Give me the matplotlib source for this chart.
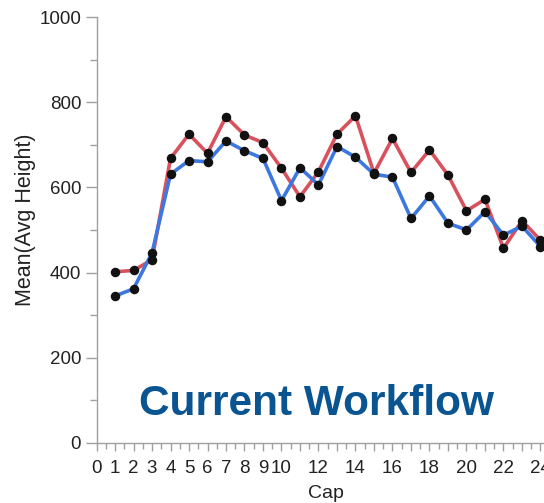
import matplotlib.pyplot as plt
from matplotlib.ticker import MultipleLocator

# values
caps = list(range(1, 25))
red_series = [402, 405, 430, 668, 725, 680, 766, 723, 705, 645, 578, 637,
              725, 768, 633, 715, 635, 688, 629, 545, 572, 457, 522, 476]
blue_series = [345, 362, 446, 631, 663, 660, 709, 686, 668, 569, 646, 606,
               696, 671, 631, 624, 527, 580, 516, 500, 543, 488, 509, 461]
x_ticks = list(range(25))
x_tick_labels = [str(i) if (i <= 10 or i % 2 == 0) else "" for i in x_ticks]
y_ticks = [0, 200, 400, 600, 800, 1000]

sans = ["Liberation Sans", "DejaVu Sans"]

fig = plt.figure(figsize=(5.44, 5.03), dpi=100)
ax = fig.add_axes([0.1774, 0.1193, 0.8226, 0.8469])

ax.plot(caps, red_series, color="#d8525e", lw=2.6, zorder=2)
ax.plot(caps, blue_series, color="#3c78e0", lw=2.6, zorder=3)
ax.scatter(caps, red_series, s=34, color="#111111", zorder=4)
ax.scatter(caps, blue_series, s=34, color="#111111", zorder=4)

ax.set_xlim(0, 24.19)
ax.set_ylim(0, 1000)

# axis cosmetics
for side in ["top", "right"]:
    ax.spines[side].set_visible(False)
for side in ["left", "bottom"]:
    ax.spines[side].set_color("#a0a0a0")
    ax.spines[side].set_linewidth(1.0)

ax.set_xticks(x_ticks)
ax.set_xticklabels(x_tick_labels)
ax.xaxis.set_minor_locator(MultipleLocator(0.5))
ax.set_yticks(y_ticks)
ax.yaxis.set_minor_locator(MultipleLocator(100))

ax.tick_params(axis="both", which="both", color="#a0a0a0", width=1.0,
               labelcolor="#222222")
ax.tick_params(axis="y", which="major", length=8, pad=3)
ax.tick_params(axis="y", which="minor", length=5)
ax.tick_params(axis="x", which="major", length=6, pad=6)
ax.tick_params(axis="x", which="minor", length=4)
for lbl in ax.get_xticklabels() + ax.get_yticklabels():
    lbl.set_family(sans)
    lbl.set_fontsize(13.5)

ax.set_xlabel("Cap", family=sans, fontsize=14, color="#222222")
ax.xaxis.set_label_coords(0.512, -0.118)
ax.xaxis.label.set_va("center")

ax.set_ylabel("Mean(Avg Height)", family=sans, fontsize=15.5, color="#222222")
ax.yaxis.set_label_coords(-0.158, 0.523)
ax.yaxis.label.set_va("center")

fig.text(0.581, 0.197, "Current Workflow", family=sans,
         fontsize=30.5, fontweight="bold", color="#0a5591", ha="center", va="center")

fig.savefig("out.png", dpi=100)
